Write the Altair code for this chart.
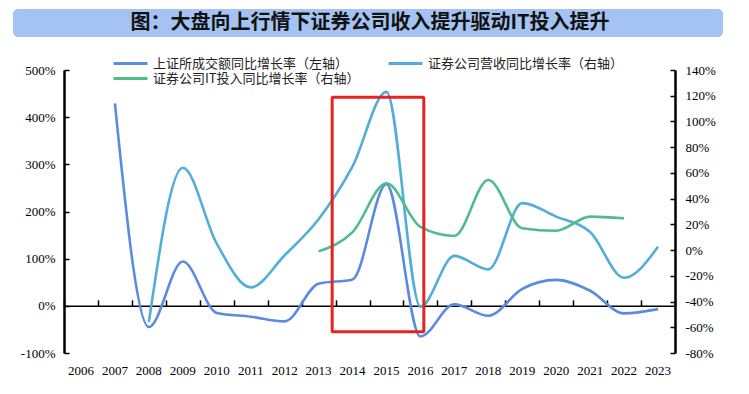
import altair as alt
import pandas as pd

# ---------------- data ----------------
years = ["2006", "2007", "2008", "2009", "2010", "2011", "2012", "2013", "2014",
         "2015", "2016", "2017", "2018", "2019", "2020", "2021", "2022", "2023"]

# 上证所成交额同比增长率 (left axis, %)
sse_turnover = [None, 429, -45, 94, -15, -23, -33, 47, 56, 258, -65, 3, -21, 36, 55, 32, -16, -7]
# 证券公司营收同比增长率 (right axis, %)
broker_revenue = [None, None, -56, 64, 5, -29, -4, 24, 65, 123, -44, -4.5, -15, 36.5, 26, 14, -21.5, 2.6]
# 证券公司IT投入同比增长率 (right axis, %)
broker_it = [None, None, None, None, None, None, None, -1, 14, 52, 18, 11, 54.5, 17, 15, 26, 24.7, None]

series_names = ["上证所成交额同比增长率（左轴）", "证券公司营收同比增长率（右轴）", "证券公司IT投入同比增长率（右轴）"]
series_colors = ["#5B8BE0", "#52ADDA", "#4DBD8B"]

left_ticks = [-100, 0, 100, 200, 300, 400, 500]
right_ticks = [-80, -60, -40, -20, 0, 20, 40, 60, 80, 100, 120, 140]

# highlighted period (red box): year span and left-axis value span
box_years = [2013.4, 2016.1]
box_values = [442, -55]

title_text = "图：大盘向上行情下证券公司收入提升驱动IT投入提升"

# ---------------- tables ----------------
def long_rows(vals, name):
    return [{"year": y, "value": v, "series": name} for y, v in zip(years, vals) if v is not None]

left_df = pd.DataFrame(long_rows(sse_turnover, series_names[0]))
right_df = pd.DataFrame(long_rows(broker_revenue, series_names[1]) + long_rows(broker_it, series_names[2]))
box_df = pd.DataFrame([{"x0": box_years[0], "x1": box_years[1], "y0": box_values[0], "y1": box_values[1]}])
left_tick_df = pd.DataFrame({"v": left_ticks})
right_tick_df = pd.DataFrame({"v": right_ticks})
year_df = pd.DataFrame({"year": years})
dummy = pd.DataFrame([{"t": title_text}])

W, H = 611, 283
LEFT_DOM = [-100, 500]
RIGHT_DOM = [-80, 140]
zero_y = H * LEFT_DOM[1] / (LEFT_DOM[1] - LEFT_DOM[0])

xband = alt.Scale(type="band", domain=years, paddingInner=0, paddingOuter=0)

legend = alt.Legend(
    orient="none", legendX=48, legendY=-14, columns=2, direction="horizontal",
    title=None, symbolType="stroke", symbolSize=1156, symbolStrokeWidth=3,
    clipHeight=15, rowPadding=0, columnPadding=27, padding=0,
    labelFont="Noto Sans CJK SC", labelFontSize=13, labelColor="#222222",
    labelLimit=400, labelOffset=4,
)
color_enc = alt.Color("series:N", scale=alt.Scale(domain=series_names, range=series_colors), legend=legend)

LINE_INTERP = "monotone"

# layer 1: SSE turnover (left axis with labels, x labels)
l1 = alt.Chart(left_df).mark_line(interpolate=LINE_INTERP, strokeWidth=2.6).encode(
    x=alt.X("year:N", scale=xband, bandPosition=0.5,
            axis=alt.Axis(orient="bottom", labelAngle=0, domain=False, ticks=False, tickSize=0,
                          labelPadding=11, title=None, grid=False)),
    y=alt.Y("value:Q", scale=alt.Scale(domain=LEFT_DOM, nice=False, zero=False),
            axis=alt.Axis(orient="left", values=left_ticks, labelExpr="datum.value + '%'",
                          domain=True, domainColor="black", domainWidth=2.5, ticks=False, tickSize=0,
                          labelPadding=9, title=None, grid=False)),
    color=color_enc,
)

# layer 2: broker revenue & IT (right axis)
l2 = alt.Chart(right_df).mark_line(interpolate=LINE_INTERP, strokeWidth=2.6).encode(
    x=alt.X("year:N", scale=xband, bandPosition=0.5, axis=None),
    y=alt.Y("value:Q", scale=alt.Scale(domain=RIGHT_DOM, nice=False, zero=False),
            axis=alt.Axis(orient="right", values=right_ticks, labelExpr="datum.value + '%'",
                          domain=True, domainColor="black", domainWidth=2.5, ticks=False, tickSize=0,
                          labelPadding=10, title=None, grid=False)),
    color=color_enc,
)

# layer 3: inward ticks for left axis
l3 = alt.Chart(left_tick_df).mark_point(opacity=0).encode(
    y=alt.Y("v:Q", scale=alt.Scale(domain=LEFT_DOM, nice=False, zero=False),
            axis=alt.Axis(orient="right", offset=-W, values=left_ticks, labels=False, domain=False,
                          ticks=True, tickSize=5, tickWidth=1.5, tickColor="black", title=None, grid=False)),
)

# layer 4: inward ticks for right axis
l4 = alt.Chart(right_tick_df).mark_point(opacity=0).encode(
    y=alt.Y("v:Q", scale=alt.Scale(domain=RIGHT_DOM, nice=False, zero=False),
            axis=alt.Axis(orient="left", offset=-W, values=right_ticks, labels=False, domain=False,
                          ticks=True, tickSize=5, tickWidth=1.5, tickColor="black", title=None, grid=False)),
)

# layer 5: zero line with year-boundary ticks
l5 = alt.Chart(year_df).mark_point(opacity=0).encode(
    x=alt.X("year:N", scale=xband,
            axis=alt.Axis(orient="top", offset=-zero_y, labels=False, domain=True, domainColor="black",
                          domainWidth=1.5, ticks=True, tickSize=6, tickWidth=1.5, tickColor="black",
                          tickBand="extent", title=None, grid=False)),
)

# layer 6: red highlight box
l6 = alt.Chart(box_df).mark_rect(fillOpacity=0, stroke="#E52421", strokeWidth=3, cornerRadius=1).encode(
    x=alt.X("x0:Q", scale=alt.Scale(domain=[2005.5, 2023.5], nice=False, zero=False), axis=None),
    x2="x1:Q",
    y=alt.Y("y0:Q", scale=alt.Scale(domain=LEFT_DOM, nice=False, zero=False), axis=None),
    y2="y1:Q",
)

# layer 7: title banner
l7 = alt.Chart(dummy).mark_rect(color="#A4C3F2", cornerRadius=5).encode(
    x=alt.value(-51), x2=alt.value(659), y=alt.value(-61), y2=alt.value(-33),
)
l8 = alt.Chart(dummy).mark_text(font="Noto Sans CJK SC", fontWeight="bold", fontSize=20,
                                align="center", baseline="middle", color="#111111").encode(
    x=alt.value(306), y=alt.value(-47), text="t:N",
)

chart = alt.layer(l7, l8, l5, l3, l4, l1, l2, l6).resolve_scale(
    x="independent", y="independent"
).properties(
    width=W, height=H,
    autosize=alt.AutoSizeParams(type="none"),
    padding={"left": 56, "top": 62, "right": 66, "bottom": 33},
).configure_view(stroke=None).configure_axis(
    labelFont="Liberation Serif", labelFontSize=13, labelColor="black"
)

chart.save("out.html", embed_options={"renderer": "svg", "actions": False})
